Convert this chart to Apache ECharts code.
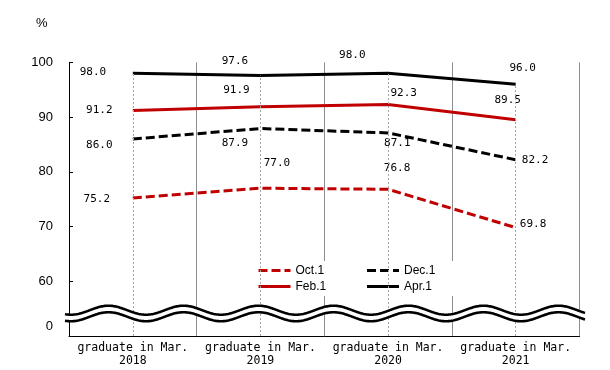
<!DOCTYPE html>
<html><head><meta charset="utf-8">
<script src="https://cdn.jsdelivr.net/npm/echarts@6/dist/echarts.min.js"></script>
<style>html,body{margin:0;padding:0;background:#fff}#c{width:610px;height:370px}</style>
</head><body><div id="c"></div>
<script>
// ---- data ----
const categories = ['graduate in Mar.\n2018', 'graduate in Mar.\n2019', 'graduate in Mar.\n2020', 'graduate in Mar.\n2021'];
const seriesNames = ['Oct.1', 'Dec.1', 'Feb.1', 'Apr.1'];
const oct1 = [75.2, 77.0, 76.8, 69.8];
const dec1 = [86.0, 87.9, 87.1, 82.2];
const feb1 = [91.2, 91.9, 92.3, 89.5];
const apr1 = [98.0, 97.6, 98.0, 96.0];
const yTickValues = [60, 70, 80, 90, 100];
const yLabelValues = [51.8, 60, 70, 80, 90, 100];
const yLabelTexts = ['0', '60', '70', '80', '90', '100'];
const axisMin = 50, axisMax = 100;

// ---- style / layout ----
const labelOffsets = {
  'Oct.1': [[-36, 1.4], [16.6, -25.5], [9, -21.6], [17.4, -3]],
  'Dec.1': [[-33.5, 6], [-25.4, 14.8], [9.3, 10.4], [19.4, 0]],
  'Feb.1': [[-33.5, 0], [-24, -16], [15.7, -11], [-8, -19.7]],
  'Apr.1': [[-39.8, -0.9], [-25.4, -14.4], [-35.7, -18.2], [7, -15.8]]
};
const RED = '#C00000', BLACK = '#000000';
const grid = { left: 69, right: 30.5, top: 62.3, bottom: 34 };
const monoFont = '"DejaVu Sans Mono", "Liberation Mono", monospace';
const sansFont = '"Liberation Sans", Arial, sans-serif';

function makeSeries(name, values, color, dashed) {
  return {
    name: name, type: 'line', data: values.map((v, i) => ({
      value: v,
      label: { position: labelOffsets[name][i] }
    })),
    symbol: 'circle', symbolSize: 0.1, showSymbol: true,
    itemStyle: { color: color },
    lineStyle: { color: color, width: 3, type: dashed ? [9, 4] : 'solid', cap: 'butt' },
    label: {
      show: true, formatter: p => p.value.toFixed(1),
      align: 'center', verticalAlign: 'middle',
      fontFamily: monoFont, fontSize: 11, color: '#000'
    },
    emphasis: { disabled: true },
    animation: false, z: 3
  };
}

const chart = echarts.init(document.getElementById('c'), null, { renderer: 'canvas' });
const aprSeries = makeSeries('Apr.1', apr1, BLACK, false);
aprSeries.markLine = {
  silent: true, symbol: ['none', 'none'], animation: false,
  label: { show: false },
  lineStyle: { color: '#a6a6a6', width: 1, type: [2, 2] },
  emphasis: { disabled: true },
  data: apr1.map((v, i) => [{ coord: [categories[i], axisMin] }, { coord: [categories[i], v] }])
};

chart.setOption({
  backgroundColor: '#fff',
  animation: false,
  title: { text: '%', left: 36, top: 17, padding: 0, textStyle: { fontSize: 13, fontWeight: 'normal', fontFamily: sansFont, color: '#000' } },
  grid: grid,
  legend: {
    data: seriesNames, left: 253, top: 261, width: 216,
    itemWidth: 32, itemHeight: 14, itemGap: 1, padding: [2, 4],
    backgroundColor: '#fff',
    lineStyle: { width: 3 },
    itemStyle: { color: 'rgba(0,0,0,0)', borderWidth: 0, opacity: 0 },
    textStyle: { fontFamily: sansFont, fontSize: 12, color: '#000', width: 69, lineHeight: 15 },
    selectedMode: false
  },
  xAxis: {
    type: 'category', data: categories, boundaryGap: true,
    axisLine: { lineStyle: { color: '#000', width: 1 } },
    axisTick: { show: false },
    axisLabel: { interval: 0, fontFamily: monoFont, fontSize: 11.5, lineHeight: 13, color: '#000', margin: 6 },
    splitLine: { show: true, interval: 0, lineStyle: { color: '#8c8c8c', width: 1 } }
  },
  yAxis: {
    type: 'value', min: axisMin, max: axisMax,
    axisLine: { show: true, lineStyle: { color: '#000', width: 1 } },
    axisTick: { show: true, inside: true, length: 4, customValues: yTickValues, lineStyle: { color: '#000' } },
    axisLabel: {
      customValues: yLabelValues,
      formatter: v => yLabelTexts[yLabelValues.indexOf(v)] ?? '',
      fontFamily: sansFont, fontSize: 13, color: '#000', margin: 16
    },
    splitLine: { show: false }
  },
  series: [
    makeSeries('Oct.1', oct1, RED, true),
    makeSeries('Dec.1', dec1, BLACK, true),
    makeSeries('Feb.1', feb1, RED, false),
    aprSeries
  ]
});

// ---- axis break wave (decoration) ----
(function () {
  const x0 = grid.left - 4, x1 = 610 - grid.right + 5.5;
  const yTop = chart.convertToPixel({ yAxisIndex: 0 }, 54.71);
  const yBot = chart.convertToPixel({ yAxisIndex: 0 }, 53.52);
  const amp = 4.5, period = 75, crest = 108.5;
  const top = [], bot = [];
  for (let x = x0; x <= x1 + 0.01; x += 1) {
    const c = Math.cos(2 * Math.PI * (x - crest) / period);
    top.push([x, yTop - amp * c]);
    bot.push([x, yBot - amp * c]);
  }
  const poly = top.concat(bot.slice().reverse());
  chart.setOption({
    graphic: [
      { type: 'polygon', z: 100, silent: true, shape: { points: poly }, style: { fill: '#fff', stroke: null } },
      { type: 'polyline', z: 101, silent: true, shape: { points: top }, style: { stroke: '#000', lineWidth: 2.6, fill: null } },
      { type: 'polyline', z: 101, silent: true, shape: { points: bot }, style: { stroke: '#000', lineWidth: 2.6, fill: null } }
    ]
  });
})();
</script></body></html>
